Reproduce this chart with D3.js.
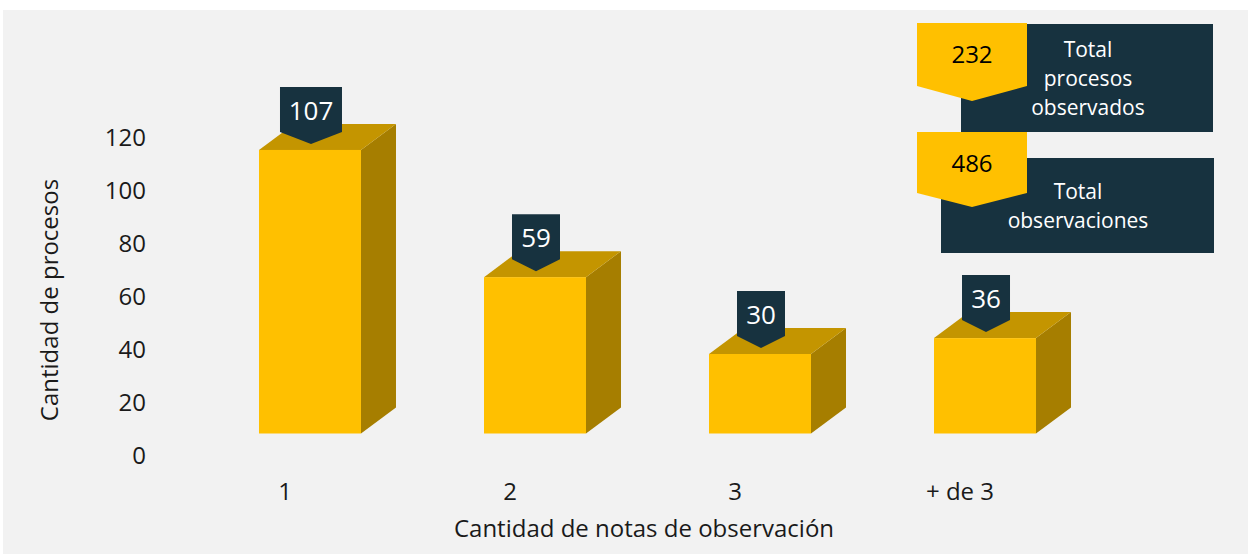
<!DOCTYPE html>
<html>
<head>
<meta charset="utf-8">
<script src="https://cdn.jsdelivr.net/npm/d3@7"></script>
<style>
  html, body { margin: 0; padding: 0; background: #ffffff; }
  svg { display: block; }
  text { font-family: "Open Sans", sans-serif; }
</style>
</head>
<body>
<svg id="canvas" width="1248" height="554"></svg>
<script>
// data
const categories = ['1', '2', '3', '+ de 3'];
const values = [107, 59, 30, 36];
const yTicks = [0, 20, 40, 60, 80, 100, 120];
const totalsValues = [232, 486];
const totalsLabels = [['Total', 'procesos', 'observados'], ['Total', 'observaciones']];

// colours
const frontColor = '#ffc000', topColor = '#c49500', sideColor = '#a67e00', dark = '#17323f';

const svg = d3.select('#canvas');

// chart background
svg.append('rect')
  .attr('x', 3).attr('y', 10)
  .attr('width', 1245).attr('height', 544)
  .attr('fill', '#f2f2f2');

// scales
const xScale = d3.scaleBand().domain(categories).range([197.5, 1097.5])
  .paddingInner(0.5467).paddingOuter(0.2733);
const yScale = d3.scaleLinear().domain([0, 120]).range([455.5, 137.5]);
const floorShift = 22;   // bars sit in front of the back wall
const depth = { dx: 35, dy: -26 };

// y axis
const yAxis = svg.append('g')
  .attr('transform', 'translate(150,0)')
  .call(d3.axisLeft(yScale).tickValues(yTicks).tickSize(0).tickPadding(4));
yAxis.select('.domain').remove();
yAxis.selectAll('text')
  .attr('font-size', 24).attr('fill', '#1a1a1a')
  .style('font-family', '"Open Sans", sans-serif');

// x axis
const xAxis = svg.append('g')
  .attr('transform', 'translate(-25,491.5)')
  .call(d3.axisBottom(xScale).tickSize(0).tickPadding(0));
xAxis.select('.domain').remove();
xAxis.selectAll('text')
  .attr('font-size', 24).attr('fill', '#1a1a1a')
  .attr('dy', '0.35em')
  .style('font-family', '"Open Sans", sans-serif');

// axis titles
svg.append('text')
  .attr('transform', 'translate(58,300) rotate(-90)')
  .attr('text-anchor', 'middle')
  .attr('font-size', 24).attr('fill', '#1a1a1a')
  .text('Cantidad de procesos');

svg.append('text')
  .attr('x', 644).attr('y', 537)
  .attr('text-anchor', 'middle')
  .attr('font-size', 24).attr('fill', '#1a1a1a')
  .text('Cantidad de notas de observación');

// 3D bars
const bars = svg.append('g').selectAll('g')
  .data(categories.map((c, i) => ({ cat: c, value: values[i] })))
  .join('g');

bars.each(function(d) {
  const g = d3.select(this);
  const x0 = xScale(d.cat), x1 = x0 + xScale.bandwidth();
  const yb = yScale(0) - floorShift, yt = yScale(d.value) - floorShift;
  const { dx, dy } = depth;
  // side face
  g.append('path')
    .attr('d', `M${x1},${yt} L${x1 + dx},${yt + dy} L${x1 + dx},${yb + dy} L${x1},${yb} Z`)
    .attr('fill', sideColor);
  // top face
  g.append('path')
    .attr('d', `M${x0},${yt} L${x0 + dx},${yt + dy} L${x1 + dx},${yt + dy} L${x1},${yt} Z`)
    .attr('fill', topColor);
  // front face
  g.append('rect')
    .attr('x', x0).attr('y', yt)
    .attr('width', x1 - x0).attr('height', yb - yt)
    .attr('fill', frontColor);

  // value callout
  const cx = (x0 + x1) / 2 + 1;
  const tip = yt - 6;
  const hw = String(d.value).length > 2 ? 31 : 24;
  g.append('path')
    .attr('d', `M${cx - hw},${tip - 57} L${cx + hw},${tip - 57} L${cx + hw},${tip - 12} L${cx},${tip} L${cx - hw},${tip - 12} Z`)
    .attr('fill', dark);
  g.append('text')
    .attr('x', cx).attr('y', tip - 33)
    .attr('dy', '0.35em')
    .attr('text-anchor', 'middle')
    .attr('font-size', 26).attr('fill', '#ffffff')
    .text(d.value);
});

// totals boxes (top right)
const boxes = [
  { x: 961, y: 24, w: 252, h: 108, ty: 50, tx: 1088, py: 23, pb: 86, pt: 101 },
  { x: 941, y: 158, w: 273, h: 95, ty: 192, tx: 1078, py: 132, pb: 193, pt: 207 }
];

boxes.forEach((b, i) => {
  const g = svg.append('g');
  g.append('rect')
    .attr('x', b.x).attr('y', b.y)
    .attr('width', b.w).attr('height', b.h)
    .attr('fill', dark);
  g.append('path')
    .attr('d', `M917,${b.py} L1027,${b.py} L1027,${b.pb} L972,${b.pt} L917,${b.pb} Z`)
    .attr('fill', frontColor);
  g.append('text')
    .attr('x', 972).attr('y', b.py + 32)
    .attr('dy', '0.35em')
    .attr('text-anchor', 'middle')
    .attr('font-size', 24).attr('fill', '#000000')
    .text(totalsValues[i]);
  g.selectAll('text.lbl')
    .data(totalsLabels[i])
    .join('text')
      .attr('class', 'lbl')
      .attr('x', b.tx)
      .attr('y', (t, j) => b.ty + j * 29)
      .attr('dy', '0.35em')
      .attr('text-anchor', 'middle')
      .attr('font-size', 21).attr('fill', '#ffffff')
      .text(t => t);
});
</script>
</body>
</html>
